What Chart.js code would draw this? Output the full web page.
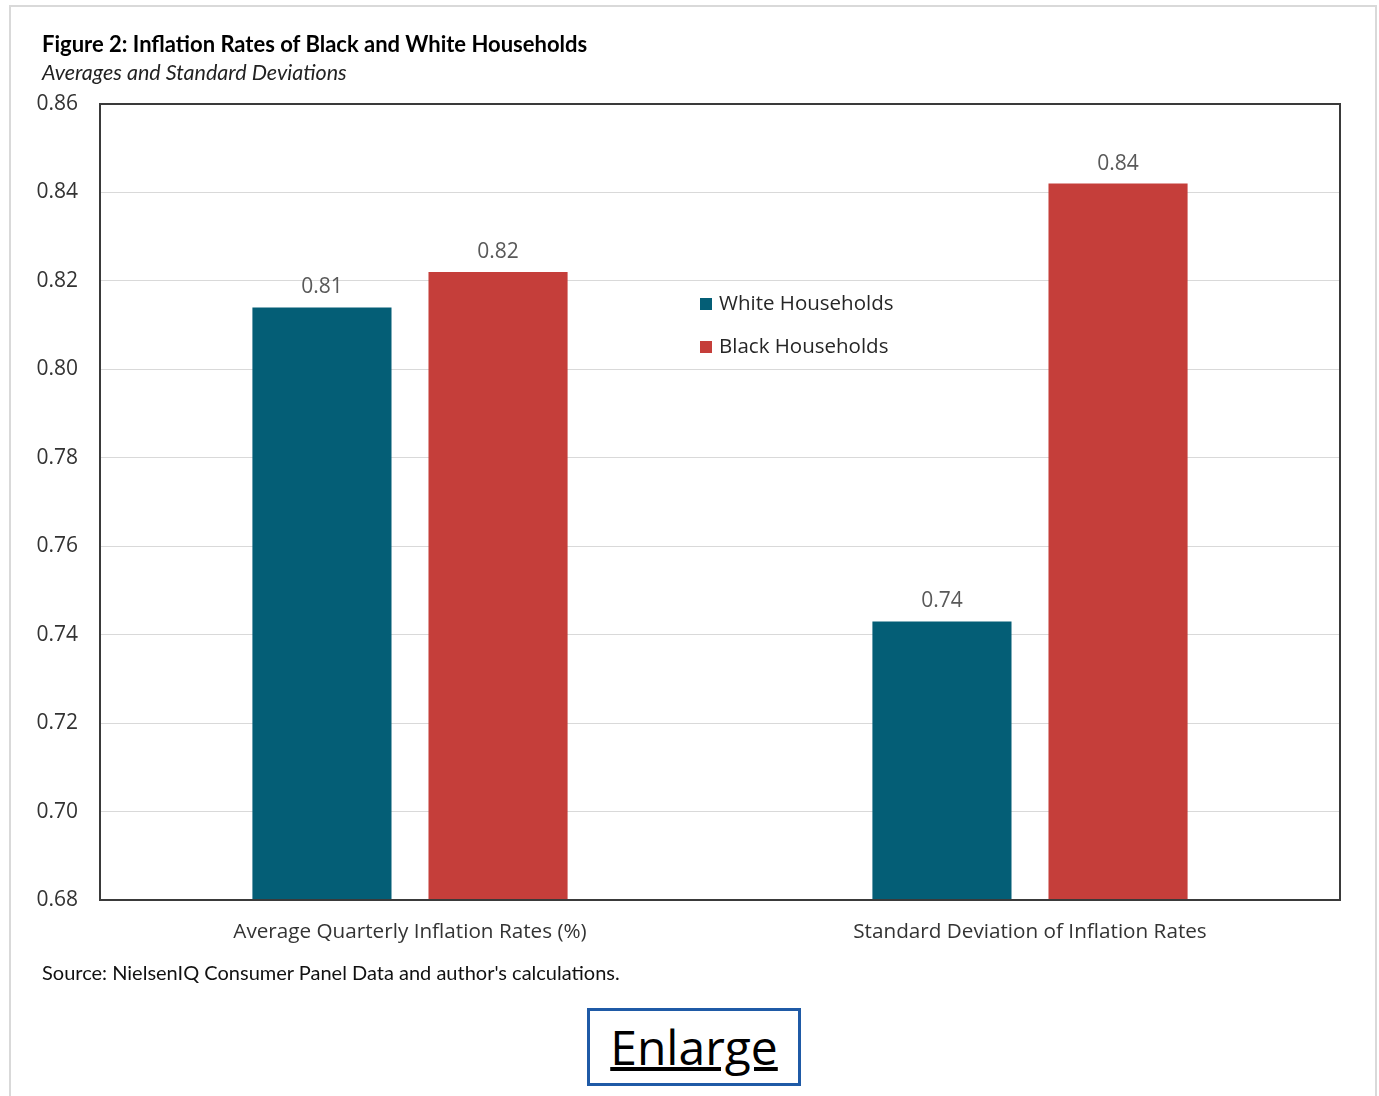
<!DOCTYPE html>
<html>
<head>
<meta charset="utf-8">
<script src="https://cdn.jsdelivr.net/npm/chart.js@4"></script>
<style>
  body { margin: 0; background: #fff; }
  .frame { position: absolute; left: 9px; top: 5px; width: 1364px; height: 1100px; border: 2px solid #d9d9d9; }
  #wrap { position: absolute; left: 0; top: 0; width: 1379px; height: 960px; }
  .title { position: absolute; left: 42px; top: 30px; font: bold 22px Lato, sans-serif; color: #000; line-height: 28px; white-space: nowrap; }
  .subtitle { position: absolute; left: 42px; top: 59px; font: italic 21.5px Lato, sans-serif; color: #222; line-height: 26px; white-space: nowrap; }
  .source { position: absolute; left: 42px; top: 959px; font: 20px Lato, sans-serif; color: #111; line-height: 26px; white-space: nowrap; }
  .enlarge { position: absolute; left: 587px; top: 1008px; width: 208px; height: 72px; border: 3px solid #1f5aa6;
             font: 48px "Open Sans", sans-serif; text-align: center; line-height: 72px; color: #000; text-decoration: underline; text-decoration-thickness: 4px; }
</style>
</head>
<body>
<div class="frame"></div>
<div id="wrap"><canvas id="inflChart" width="1379" height="960"></canvas></div>
<div class="title">Figure 2: Inflation Rates of Black and White Households</div>
<div class="subtitle">Averages and Standard Deviations</div>
<div class="source">Source: NielsenIQ Consumer Panel Data and author's calculations.</div>
<div class="enlarge">Enlarge</div>
<script>
const categories = ['Average Quarterly Inflation Rates (%)', 'Standard Deviation of Inflation Rates'];
const whiteHouseholds = [0.814, 0.743];
const blackHouseholds = [0.822, 0.842];
const yTicks = [0.68, 0.70, 0.72, 0.74, 0.76, 0.78, 0.80, 0.82, 0.84, 0.86];

// black box round the plot area
const plotBox = {
    id: 'plotBox',
    afterDatasetsDraw(chart) {
        const a = chart.chartArea;
        const c = chart.ctx;
        c.save();
        c.strokeStyle = '#3a3a3a';
        c.lineWidth = 2;
        c.strokeRect(a.left, a.top, a.right - a.left, a.bottom - a.top);
        c.restore();
    }
};

// value labels above bars
const barLabels = {
    id: 'barLabels',
    afterDatasetsDraw(chart) {
        const c = chart.ctx;
        c.save();
        c.font = '21px "Open Sans", sans-serif';
        c.fillStyle = '#595959';
        c.textAlign = 'center';
        c.textBaseline = 'middle';
        chart.data.datasets.forEach((ds, i) => {
            chart.getDatasetMeta(i).data.forEach((bar, j) => {
                c.fillText(ds.data[j].toFixed(2), bar.x, bar.y - 20);
            });
        });
        c.restore();
    }
};

// legend sitting inside the plot
const innerLegend = {
    id: 'innerLegend',
    afterDraw(chart) {
        const c = chart.ctx;
        const x = chart.chartArea.left + 600;
        let y = chart.chartArea.top + 200;
        c.save();
        c.font = '20.5px "Open Sans", sans-serif';
        c.textBaseline = 'middle';
        chart.data.datasets.forEach(ds => {
            c.fillStyle = ds.backgroundColor;
            c.fillRect(x, y - 6, 12, 12);
            c.fillStyle = '#262626';
            c.fillText(ds.label, x + 19, y);
            y += 43;
        });
        c.restore();
    }
};

new Chart(document.getElementById('inflChart'), {
    type: 'bar',
    data: {
        labels: categories,
        datasets: [
            { label: 'White Households', data: whiteHouseholds, backgroundColor: '#045e76' },
            { label: 'Black Households', data: blackHouseholds, backgroundColor: '#c53e3a' }
        ]
    },
    options: {
        responsive: false,
        animation: false,
        devicePixelRatio: 1,
        categoryPercentage: 0.568,
        barPercentage: 0.79,
        layout: { padding: { left: 30, right: 39, top: 104, bottom: 10 } },
        plugins: { legend: { display: false }, tooltip: { enabled: false } },
        scales: {
            x: {
                afterFit(s) { s.height = 50; },
                grid: { display: false, drawTicks: false },
                border: { display: false },
                ticks: { padding: 20, color: '#333', font: { family: 'Open Sans', size: 20.7 } }
            },
            y: {
                min: 0.68,
                max: 0.86,
                afterFit(s) { s.width = 70; },
                afterBuildTicks(s) { s.ticks = yTicks.map(v => ({ value: v })); },
                grid: { color: '#d9d9d9', lineWidth: 1, drawTicks: false },
                border: { display: false },
                ticks: {
                    padding: 22,
                    color: '#333',
                    font: { family: 'Open Sans', size: 21 },
                    callback: v => v.toFixed(2)
                }
            }
        }
    },
    plugins: [plotBox, barLabels, innerLegend]
});
</script>
</body>
</html>
